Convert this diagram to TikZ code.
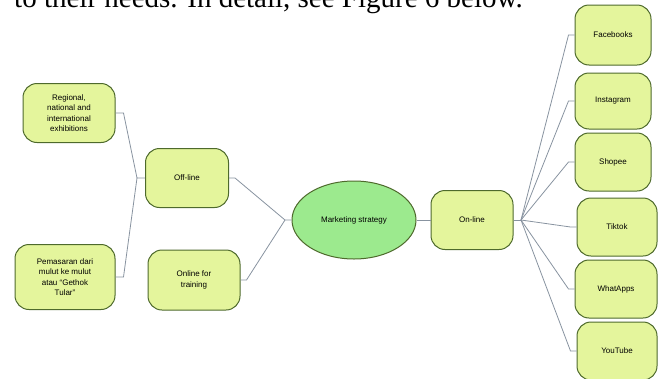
\documentclass[tikz,border=0pt]{standalone}
\usepackage{fontspec}
\setmainfont{Liberation Sans}
\newfontfamily\introfont{Liberation Serif}
\usetikzlibrary{shapes}
\definecolor{topicfill}{HTML}{E4F59C}
\definecolor{rootfill}{HTML}{9CEA8E}
\definecolor{boxline}{HTML}{4E6A2C}
\definecolor{linkgray}{HTML}{8893A0}

\begin{document}
\begin{tikzpicture} [x=1pt, y=-1pt,
    every node/.style={font=\fontsize{8}{10.5}\selectfont, align=center},
    topic/.style={draw=boxline, fill=topicfill, line width=1pt, rounded corners=14pt, inner sep=2pt},
    root/.style={ellipse, draw=boxline, fill=rootfill, line width=1pt, inner sep=0pt,
        minimum width=124pt, minimum height=78pt},
    branch/.style={draw=linkgray, line width=0.8pt}]
\useasboundingbox (0,0) rectangle (659,378);

% cut text line above the figure
\node[anchor=base west, inner sep=0pt, font=\introfont\fontsize{29}{32}\selectfont] (intro) at (14,7)
    {to their needs. In detail, see Figure 6 below.};

% centre
\node[root] (strategy) at (354,220) {Marketing strategy};

% left side
\node[topic, minimum width=83pt, minimum height=59pt] (offline) at (187,178) {Off-line};
\node[topic, minimum width=92pt, minimum height=60pt] (training) at (194,280) {Online for\\ training};
\node[topic, minimum width=92pt, minimum height=59pt] (regional) at (69,113) {Regional,\\ national and\\ international\\ exhibitions};
\node[topic, minimum width=100pt, minimum height=65pt] (mouth) at (65,277) {Pemasaran dari\\ mulut ke mulut\\ atau “Gethok\\ Tular”};

% right side
\node[topic, minimum width=82pt, minimum height=59pt] (online) at (472,220) {On-line};
\node[topic, minimum width=76pt, minimum height=60pt] (facebook) at (613,35) {Facebooks};
\node[topic, minimum width=76pt, minimum height=56pt] (instagram) at (613,101) {Instagram};
\node[topic, minimum width=76pt, minimum height=58pt] (shopee) at (613,162) {Shopee};
\node[topic, minimum width=80pt, minimum height=58pt] (tiktok) at (617,227) {Tiktok};
\node[topic, minimum width=82pt, minimum height=58pt] (whatsapp) at (616,289) {WhatApps};
\node[topic, minimum width=80pt, minimum height=58pt] (youtube) at (617,351) {YouTube};

% junctions
\coordinate (offjoin) at (137,178);
\coordinate (rootjoin) at (285,220);
\coordinate (onjoin) at (521,220);

% connectors
\draw[branch] (regional.east) -- ++(8,0) -- (offjoin) -- (offline.west);
\draw[branch] (mouth.east) -- ++(8,0) -- (offjoin);
\draw[branch] (offline.east) -- ++(6,0) -- (rootjoin) -- (strategy.west);
\draw[branch] (training.east) -- ++(6,0) -- (rootjoin);
\draw[branch] (strategy.east) -- (online.west);
\draw[branch] (online.east) -- (onjoin);
\draw[branch] (onjoin) -- ([xshift=-6pt]facebook.west) -- (facebook.west);
\draw[branch] (onjoin) -- ([xshift=-6pt]instagram.west) -- (instagram.west);
\draw[branch] (onjoin) -- ([xshift=-6pt]shopee.west) -- (shopee.west);
\draw[branch] (onjoin) -- ([xshift=-6pt]tiktok.west) -- (tiktok.west);
\draw[branch] (onjoin) -- ([xshift=-6pt]whatsapp.west) -- (whatsapp.west);
\draw[branch] (onjoin) -- ([xshift=-6pt]youtube.west) -- (youtube.west);
\end{tikzpicture}
\end{document}
